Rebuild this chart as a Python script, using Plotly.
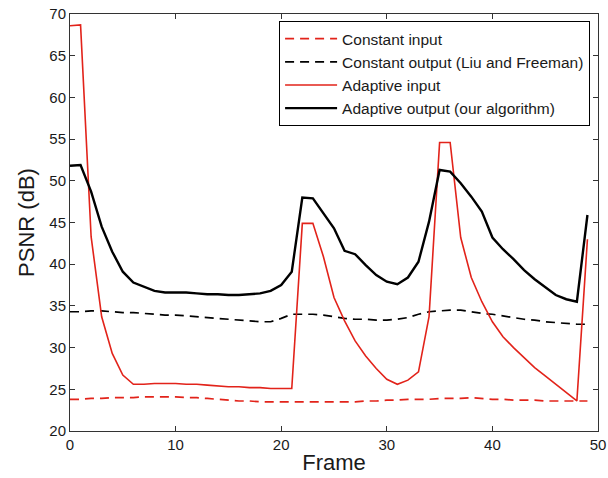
import plotly.graph_objects as go

frames = list(range(50))

constant_input = [23.8, 23.8, 23.9, 23.9, 24.0, 24.0, 24.0, 24.1, 24.1, 24.1,
                  24.1, 24.0, 24.0, 23.9, 23.8, 23.7, 23.6, 23.6, 23.5, 23.5,
                  23.5, 23.5, 23.5, 23.5, 23.5, 23.5, 23.5, 23.5, 23.6, 23.6,
                  23.7, 23.7, 23.8, 23.8, 23.8, 23.9, 23.9, 23.9, 24.0, 23.9,
                  23.8, 23.8, 23.7, 23.7, 23.7, 23.6, 23.6, 23.6, 23.6, 23.6]

constant_output = [34.3, 34.3, 34.4, 34.4, 34.3, 34.2, 34.2, 34.1, 34.0, 33.9,
                   33.9, 33.8, 33.7, 33.6, 33.5, 33.4, 33.3, 33.2, 33.1, 33.1,
                   33.5, 34.0, 34.0, 34.0, 33.9, 33.7, 33.5, 33.4, 33.4, 33.3,
                   33.3, 33.4, 33.6, 34.0, 34.3, 34.4, 34.5, 34.5, 34.3, 34.1,
                   34.0, 33.8, 33.6, 33.4, 33.3, 33.1, 33.0, 32.9, 32.8, 32.8]

adaptive_input = [68.6, 68.7, 43.3, 33.7, 29.3, 26.7, 25.6, 25.6, 25.7, 25.7,
                  25.7, 25.6, 25.6, 25.5, 25.4, 25.3, 25.3, 25.2, 25.2, 25.1,
                  25.1, 25.1, 44.9, 44.9, 40.9, 36.0, 33.2, 30.8, 29.0, 27.5,
                  26.2, 25.6, 26.1, 27.1, 33.7, 54.6, 54.6, 43.2, 38.4, 35.5,
                  33.1, 31.3, 30.0, 28.8, 27.6, 26.6, 25.6, 24.6, 23.6, 43.0]

adaptive_output = [51.8, 51.9, 48.7, 44.5, 41.5, 39.1, 37.8, 37.3, 36.8, 36.6,
                   36.6, 36.6, 36.5, 36.4, 36.4, 36.3, 36.3, 36.4, 36.5, 36.8,
                   37.5, 39.1, 48.0, 47.9, 46.1, 44.3, 41.6, 41.2, 39.9, 38.7,
                   37.9, 37.6, 38.4, 40.3, 45.1, 51.3, 51.1, 49.7, 48.1, 46.3,
                   43.2, 41.8, 40.6, 39.3, 38.2, 37.2, 36.3, 35.8, 35.5, 45.9]

RED = "#e2231a"
BLACK = "#000000"
FONT = "Liberation Sans, Arial, sans-serif"

fig = go.Figure()
fig.add_trace(go.Scatter(x=frames, y=constant_input, mode="lines",
                         name="Constant input",
                         line=dict(color=RED, width=1.7, dash="9px,6px")))
fig.add_trace(go.Scatter(x=frames, y=constant_output, mode="lines",
                         name="Constant output (Liu and Freeman)",
                         line=dict(color=BLACK, width=1.7, dash="9px,6px")))
fig.add_trace(go.Scatter(x=frames, y=adaptive_input, mode="lines",
                         name="Adaptive input",
                         line=dict(color=RED, width=1.6)))
fig.add_trace(go.Scatter(x=frames, y=adaptive_output, mode="lines",
                         name="Adaptive output (our algorithm)",
                         line=dict(color=BLACK, width=2.4)))

axis_common = dict(
    automargin=False,
    showgrid=False, zeroline=False,
    showline=True, linecolor="#333333", linewidth=1, mirror="ticks",
    ticks="inside", ticklen=5, tickcolor="#333333", tickwidth=1,
    tickfont=dict(family=FONT, size=15, color="#1a1a1a"),
)

fig.update_layout(
    width=608, height=478,
    margin=dict(l=70, r=10, t=14, b=47, autoexpand=False),
    paper_bgcolor="white", plot_bgcolor="white",
    font=dict(family=FONT, color="#1a1a1a"),
    xaxis=dict(range=[0, 50], tickvals=[0, 10, 20, 30, 40, 50],
               title=dict(text="Frame", font=dict(size=22), standoff=2),
               **axis_common),
    yaxis=dict(range=[20, 70], tickvals=list(range(20, 71, 5)),
               title=dict(text="PSNR (dB)", font=dict(size=22), standoff=8),
               **axis_common),
    legend=dict(x=0.985, y=0.983, xanchor="right", yanchor="top",
                bgcolor="white", bordercolor="#000000", borderwidth=1,
                font=dict(size=15.5, color="#1a1a1a"),
                tracegroupgap=0, itemwidth=52),
    showlegend=True,
)

fig.write_html("out.html")
